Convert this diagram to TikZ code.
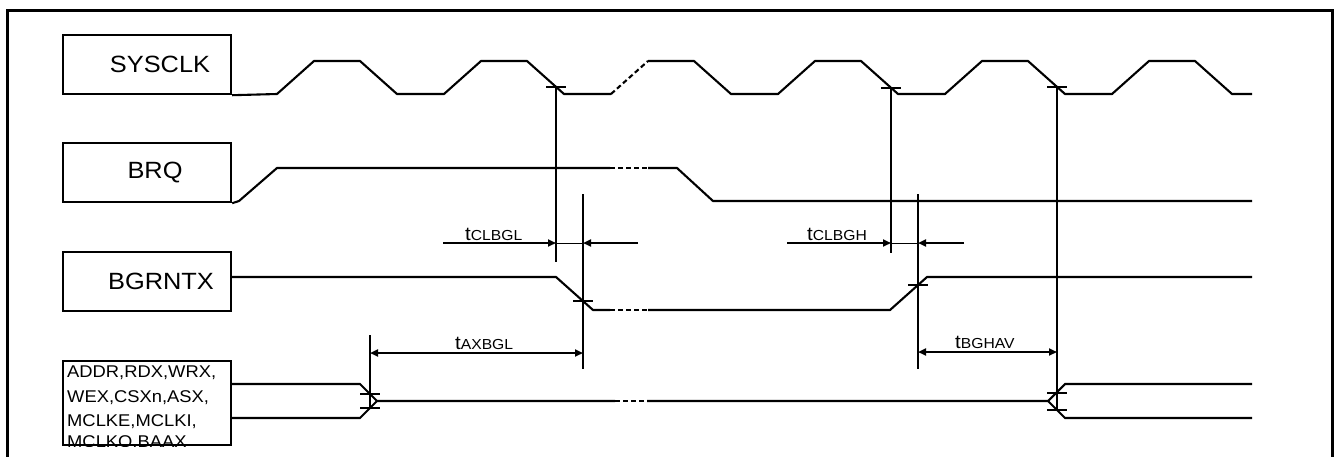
\documentclass[tikz,border=0pt]{standalone}
\usepackage{fontspec}
\setmainfont{Liberation Sans}[FakeStretch=1.08]
\usetikzlibrary{arrows.meta,positioning}

\newcommand{\tparam}[1]{{\fontsize{19}{19}\selectfont t}{\fontsize{14.5}{14.5}\selectfont #1}}

\begin{document}
\begin{tikzpicture}[
    x=1pt, y=-1pt,
    sigbox/.style={draw, line width=2.4pt, minimum width=168pt, minimum height=59pt, inner sep=0pt},
    signame/.style={font=\fontsize{23.5}{23.5}\selectfont, inner sep=0pt},
    busname/.style={font=\fontsize{17}{17}\selectfont, anchor=base west, inner sep=0pt},
    wave/.style={line width=2.1pt},
    gap/.style={wave, dash pattern=on 5pt off 3pt},
    marker/.style={line width=2.1pt},
    tick/.style={line width=2.1pt},
    timearrow/.style={line width=1.9pt, -{Triangle[length=8pt,width=7pt]}},
    thin_link/.style={line width=0.9pt},
    time_label/.style={anchor=base west, inner sep=0pt}
]
    \useasboundingbox (0,0) rectangle (1338,456);

    % Frame
    \draw[line width=3pt] (7,462) -- (7,10) -- (1332,10) -- (1332,462);

    % Signal boxes
    \node[sigbox] (sysclk) at (147,64.5) {};
    \node[sigbox] (brq) at (147,172.5) {};
    \node[sigbox] (bgrntx) at (147,281.5) {};
    \node[sigbox, minimum height=84pt] (addr) at (147,403) {};

    \node[signame] (sysclk_txt) at ([xshift=13pt]sysclk.center) {SYSCLK};
    \node[signame] (brq_txt) at ([xshift=8pt]brq.center) {BRQ};
    \node[signame] (bgrntx_txt) at ([xshift=14pt]bgrntx.center) {BGRNTX};

    \begin{scope}
        \clip (addr.south west) rectangle (addr.north east);
        \node[busname] (addr_l1) at (67,377) {ADDR,RDX,WRX,};
        \node[busname] (addr_l2) at (67,402) {WEX,CSXn,ASX,};
        \node[busname] (addr_l3) at (67,426) {MCLKE,MCLKI,};
        \node[busname] (addr_l4) at (67,447) {MCLKO,BAAX};
    \end{scope}

    % SYSCLK
    \draw[wave] (sysclk.south east) -- (277,94) -- (314,61) -- (360,61) -- (397,94)
        -- (444,94) -- (481,61) -- (527,61) -- (564,94) -- (611,94);
    \draw[gap] (611,94) -- (648,61);
    \draw[wave] (648,61) -- (694,61) -- (731,94) -- (778,94) -- (815,61) -- (861,61)
        -- (898,94) -- (945,94) -- (982,61) -- (1028,61) -- (1065,94) -- (1112,94)
        -- (1149,61) -- (1195,61) -- (1232,94) -- (1252,94);

    % BRQ
    \draw[wave] (brq.south east) -- (239,201) -- (277,168) -- (610,168);
    \draw[gap] (610,168) -- (648,168);
    \draw[wave] (648,168) -- (677,168) -- (713,201) -- (1252,201);

    % BGRNTX
    \draw[wave] (231,277) -- (556,277) -- (593,310) -- (610,310);
    \draw[gap] (610,310) -- (648,310);
    \draw[wave] (648,310) -- (890,310) -- (927,277) -- (1252,277);

    % Address bus
    \draw[wave] (231,384) -- (360,384) -- (377,401) -- (615,401);
    \draw[wave] (231,418) -- (360,418) -- (377,401);
    \draw[gap] (615,401) -- (647,401);
    \draw[wave] (647,401) -- (1048,401) -- (1065,384) -- (1252,384);
    \draw[wave] (1048,401) -- (1065,418) -- (1252,418);

    % Timing points
    \coordinate (clkA) at (556,87);
    \coordinate (clkB) at (891,88);
    \coordinate (clkC) at (1057,87);
    \coordinate (bgL) at (583,301);
    \coordinate (bgH) at (918,285);
    \coordinate (adL1) at (370,394);
    \coordinate (adL2) at (370,408);
    \coordinate (adR1) at (1057,393);
    \coordinate (adR2) at (1057,410);

    \coordinate (clkA_end) at (556,262);
    \coordinate (clkB_end) at (891,253);
    \coordinate (bgL_top) at (583,194);
    \coordinate (bgL_end) at (583,369);
    \coordinate (bgH_top) at (918,194);
    \coordinate (bgH_end) at (918,369);
    \coordinate (adL_top) at (370,335);

    % Marker lines
    \draw[marker] (clkA) -- (clkA_end);
    \draw[marker] (clkB) -- (clkB_end);
    \draw[marker] (clkC) -- (adR2);
    \draw[marker] (bgL_top) -- (bgL_end);
    \draw[marker] (bgH_top) -- (bgH_end);
    \draw[marker] (adL_top) -- (adL2);

    % Ticks
    \foreach \p in {clkA,clkB,clkC,bgL,bgH,adL1,adL2,adR1,adR2}
        \draw[tick] ([xshift=-10pt]\p) -- ([xshift=10pt]\p);

    % tCLBGL
    \coordinate (clbgl_l) at (443,243);
    \coordinate (clbgl_r) at (638,243);
    \draw[timearrow] (clbgl_l) -- (clbgl_l -| clkA);
    \draw[thin_link] (clbgl_l -| clkA) -- (clbgl_l -| bgL);
    \draw[timearrow] (clbgl_r) -- (clbgl_r -| bgL);
    \node[time_label] (clbgl_txt) at (465,240) {\tparam{CLBGL}};

    % tCLBGH
    \coordinate (clbgh_l) at (787,243);
    \coordinate (clbgh_r) at (964,243);
    \draw[timearrow] (clbgh_l) -- (clbgh_l -| clkB);
    \draw[thin_link] (clbgh_l -| clkB) -- (clbgh_l -| bgH);
    \draw[timearrow] (clbgh_r) -- (clbgh_r -| bgH);
    \node[time_label] (clbgh_txt) at (807,240) {\tparam{CLBGH}};

    % tAXBGL
    \coordinate (axbgl) at (370,353);
    \draw[timearrow, {Triangle[length=8pt,width=7pt]}-{Triangle[length=8pt,width=7pt]}]
        (axbgl) -- (axbgl -| bgL);
    \node[time_label] (axbgl_txt) at (455,349) {\tparam{AXBGL}};

    % tBGHAV
    \coordinate (bghav) at (918,352);
    \draw[timearrow, {Triangle[length=8pt,width=7pt]}-{Triangle[length=8pt,width=7pt]}]
        (bghav) -- (bghav -| clkC);
    \node[time_label] (bghav_txt) at (955,348) {\tparam{BGHAV}};
\end{tikzpicture}
\end{document}
